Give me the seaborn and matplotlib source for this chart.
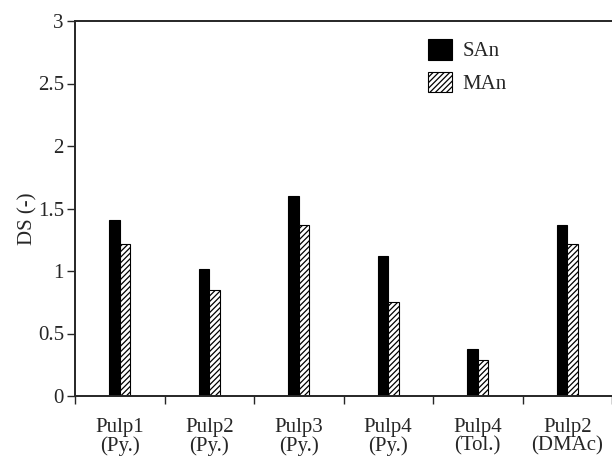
import matplotlib
matplotlib.use("Agg")
import matplotlib.pyplot as plt
import seaborn as sns
import pandas as pd

categories = ["Pulp1\n(Py.)", "Pulp2\n(Py.)", "Pulp3\n(Py.)", "Pulp4\n(Py.)", "Pulp4\n(Tol.)", "Pulp2\n(DMAc)"]
san_values = [1.41, 1.02, 1.60, 1.12, 0.38, 1.37]
man_values = [1.22, 0.85, 1.37, 0.75, 0.29, 1.22]
series_names = ["SAn", "MAn"]
y_ticks = [0, 0.5, 1, 1.5, 2, 2.5, 3]
y_tick_labels = ["0", "0.5", "1", "1.5", "2", "2.5", "3"]

df = pd.DataFrame({
    "cat": categories * 2,
    "DS": san_values + man_values,
    "series": [series_names[0]] * len(categories) + [series_names[1]] * len(categories),
})

sns.set_style("ticks")
plt.rcParams["font.family"] = ["Liberation Serif", "DejaVu Serif"]
plt.rcParams["hatch.linewidth"] = 0.9

FS = 15

fig = plt.figure(figsize=(6.12, 4.57), dpi=100)
ax = fig.add_axes([75 / 612, 1 - 396 / 457, 1 - 75 / 612, (396 - 21) / 457])

sns.barplot(data=df, x="cat", y="DS", hue="series", order=categories,
            hue_order=series_names, palette=["black", "white"],
            width=0.235, dodge=True, gap=0, edgecolor="black", linewidth=0.8,
            saturation=1, ax=ax, legend=True)

for p in ax.containers[1]:
    p.set_hatch("//////")
    p.set_facecolor("white")
    p.set_edgecolor("black")

ax.set_xlim(-0.5, len(categories) - 0.5)
ax.set_ylim(0, 3)
ax.set_yticks(y_ticks)
ax.set_yticklabels(y_tick_labels, fontsize=FS)
ax.set_xticks(range(len(categories)))
ax.set_xticklabels(categories, fontsize=FS, linespacing=0.95)
ax.tick_params(axis="x", which="major", length=0, pad=16)
ax.set_xticks([i - 0.5 for i in range(len(categories) + 1)], minor=True)
ax.tick_params(axis="x", which="minor", length=6, width=1, direction="out")
ax.tick_params(axis="y", length=6, width=1, direction="out", pad=2)
ax.set_xlabel("")
ax.set_ylabel("DS (-)", fontsize=FS)
ax.yaxis.set_label_coords((37 - 75) / (612 - 75), (396 - 219) / 375)

for s in ["left", "bottom", "top"]:
    ax.spines[s].set_linewidth(1.4)
    ax.spines[s].set_visible(True)
ax.spines["right"].set_visible(False)

leg = ax.legend(loc="upper left", bbox_to_anchor=(428 / 612, 1 - 39 / 457),
                bbox_transform=fig.transFigure, frameon=False, fontsize=FS,
                handlelength=1.15, handleheight=1.15, handletextpad=0.5,
                labelspacing=0.5, borderpad=0, borderaxespad=0)
for h, name in zip(leg.legend_handles, series_names):
    h.set_edgecolor("black")
    if name == "MAn":
        h.set_hatch("//////")
        h.set_facecolor("white")

fig.savefig("out.png", dpi=100)
